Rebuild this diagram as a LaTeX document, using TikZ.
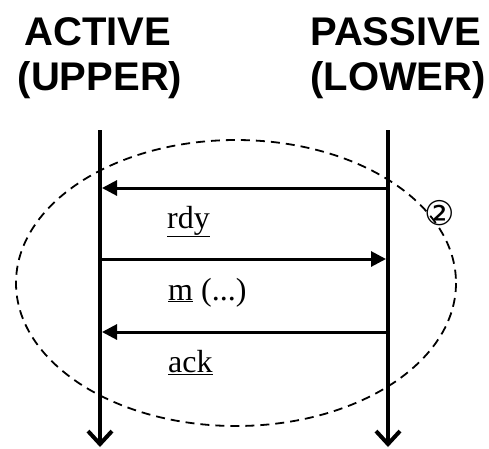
\documentclass[tikz,border=0pt]{standalone}
\usepackage{fontspec}
\setmainfont{Liberation Serif}
\setsansfont{Liberation Sans}
\newfontfamily\symfont{DejaVu Sans}
\usetikzlibrary{arrows.meta}
\tikzset{
  header/.style = {anchor=base, inner sep=0pt, font=\sffamily\bfseries\fontsize{40}{45}\selectfont},
  lifeline/.style = {line width=4.5pt, -{Straight Barb[length=13pt,width=24pt,line width=4pt]}},
  msg/.style = {line width=3pt, -{Triangle[length=15pt,width=15pt]}},
  msglabel/.style = {anchor=base west, inner sep=0pt, font=\fontsize{32}{32}\selectfont},
  zone/.style = {line width=1.8pt, dash pattern=on 9pt off 6pt},
  tag/.style = {inner sep=0pt, font=\symfont\fontsize{34}{34}\selectfont},
}
\begin{document}
\begin{tikzpicture}[x=1pt,y=-1pt]
\useasboundingbox (0,0) rectangle (489,448);
% column headers
\node [header] (act)  at (98,45)  {ACTIVE};
\node [header] (actU) at (100,90) {(UPPER)};
\node [header, anchor=base east] (pas)  at (481,45) {PASSIVE};
\node [header, anchor=base east] (pasL) at (486,90) {(LOWER)};
% lifelines
\coordinate (actTop) at (100,130);
\coordinate (actBot) at (100,447);
\coordinate (pasTop) at (388,130);
\coordinate (pasBot) at (388,447);
\draw [lifeline] (actTop) -- (actBot);
\draw [lifeline] (pasTop) -- (pasBot);
% messages
\coordinate (a1) at (102,188); \coordinate (p1) at (388,188);
\coordinate (a2) at (100,259); \coordinate (p2) at (386,259);
\coordinate (a3) at (102,332); \coordinate (p3) at (388,332);
\draw [msg] (p1) -- (a1);
\draw [msg] (a2) -- (p2);
\draw [msg] (p3) -- (a3);
\node [msglabel] (rdy) at (167,228) {\underline{rdy}};
\node [msglabel] (m)   at (168,300) {\underline{m} (...)};
\node [msglabel] (ack) at (168,372) {\underline{ack}};
% dashed zone
\draw [zone] (236,283) ellipse [x radius=220, y radius=143];
\node [tag] (two) at (439.5,213) {②};
\end{tikzpicture}
\end{document}
